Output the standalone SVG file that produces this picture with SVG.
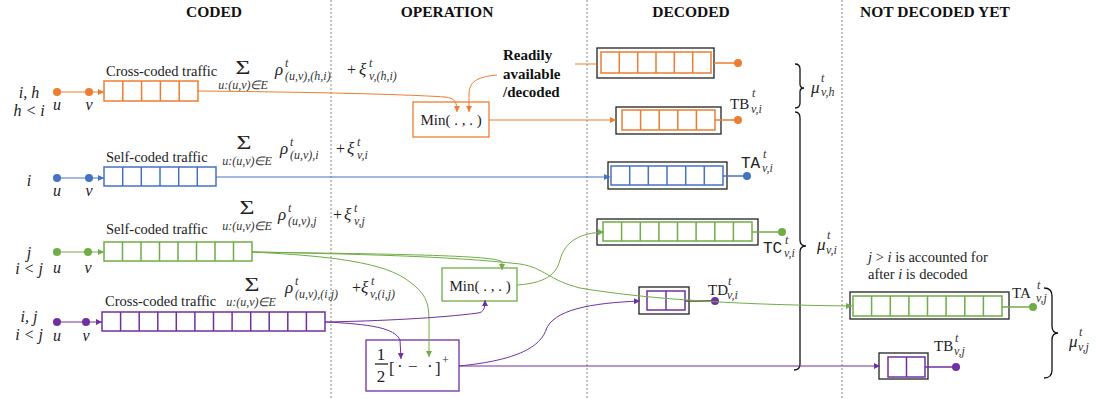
<svg xmlns="http://www.w3.org/2000/svg" width="1099" height="399" viewBox="0 0 1099 399">
<style>
.hdr{font-family:"Liberation Serif",serif;font-weight:bold;font-size:15.5px;text-anchor:middle;fill:#111}
.bold{font-family:"Liberation Serif",serif;font-weight:bold;font-size:15px;fill:#111}
.lbl{font-family:"Liberation Serif",serif;font-size:14.5px;fill:#222}
.m{font-family:"Liberation Serif",serif;font-style:italic;font-size:17px;fill:#222}
.mc{font-family:"Liberation Serif",serif;font-style:italic;font-size:16px;fill:#222;text-anchor:middle}
.s{font-family:"Liberation Serif",serif;font-style:italic;font-size:12px;fill:#333}
.sc{font-family:"Liberation Serif",serif;font-style:italic;font-size:12px;fill:#333;text-anchor:middle}
.sig{font-family:"Liberation Serif",serif;font-size:19px;fill:#222;text-anchor:middle}
.pl{font-family:"Liberation Serif",serif;font-size:16px;fill:#222}
.tt{font-family:"Liberation Mono",monospace;font-size:16px;fill:#222}
.rm{font-family:"Liberation Serif",serif;font-size:15px;fill:#222}
.br{font-family:"Liberation Serif",serif;font-size:17px;fill:#222}
.div{stroke:#888;stroke-width:1;stroke-dasharray:2,2;fill:none}
.box{fill:#fff;stroke:#222;stroke-width:1.3}
.c{fill:none;stroke-width:1}
.o{stroke:#ED7D31}.b{stroke:#4472C4}.g{stroke:#70AD47}.p{stroke:#7030A0}
.q{fill:#fff;stroke-width:1.5}
.brace{fill:none;stroke:#111;stroke-width:1.3}
</style>
<defs>
<marker id="aO" viewBox="0 0 6 6" refX="6" refY="3" markerWidth="6" markerHeight="6" orient="auto" markerUnits="userSpaceOnUse"><path d="M0,0 L6,3 L0,6 z" fill="#ED7D31"/></marker>
<marker id="aB" viewBox="0 0 6 6" refX="6" refY="3" markerWidth="6" markerHeight="6" orient="auto" markerUnits="userSpaceOnUse"><path d="M0,0 L6,3 L0,6 z" fill="#4472C4"/></marker>
<marker id="aG" viewBox="0 0 6 6" refX="6" refY="3" markerWidth="6" markerHeight="6" orient="auto" markerUnits="userSpaceOnUse"><path d="M0,0 L6,3 L0,6 z" fill="#70AD47"/></marker>
<marker id="aP" viewBox="0 0 6 6" refX="6" refY="3" markerWidth="6" markerHeight="6" orient="auto" markerUnits="userSpaceOnUse"><path d="M0,0 L6,3 L0,6 z" fill="#7030A0"/></marker>
</defs>
<rect width="1099" height="399" fill="#fff"/>

<g id="dividers">
<line class="div" x1="331" y1="0" x2="331" y2="399"/>
<line class="div" x1="587" y1="0" x2="587" y2="399"/>
<line class="div" x1="842" y1="0" x2="842" y2="399"/>
</g>

<g id="headers">
<text class="hdr" x="214" y="17">CODED</text>
<text class="hdr" x="447" y="17">OPERATION</text>
<text class="hdr" x="691" y="17">DECODED</text>
<text class="hdr" x="935" y="17">NOT DECODED YET</text>
</g>

<g id="row-h" fill="#ED7D31">
<text class="mc" x="29" y="98">i, h</text>
<text class="mc" x="29" y="116">h &lt; i</text>
<circle cx="57" cy="92" r="4"/><circle cx="89" cy="92" r="4"/>
<text class="mc" x="57" y="110">u</text><text class="mc" x="89" y="110">v</text>
<text class="lbl" x="106" y="76">Cross-coded traffic</text>
<g class="q o"><rect x="104" y="81" width="94" height="20"/><path d="M122.8 81V101M141.6 81V101M160.4 81V101M179.2 81V101"/></g>
<text class="sig" transform="translate(243 74) scale(1.35 1)">Σ</text>
<text class="sc" x="243" y="89">u:(u,v)∈E</text>
<text class="m" x="275" y="75">ρ</text>
<text class="s" x="285" y="67">t</text>
<text class="s" x="285" y="80">(u,v),(h,i)</text>
<text class="pl" x="347" y="75">+</text>
<text class="m" x="359" y="75">ξ</text>
<text class="s" x="369" y="67">t</text>
<text class="s" x="369" y="80">v,(h,i)</text>
</g>

<g id="row-i" fill="#4472C4">
<text class="mc" x="29" y="186">i</text>
<circle cx="57" cy="178" r="4"/><circle cx="89" cy="178" r="4"/>
<text class="mc" x="57" y="196">u</text><text class="mc" x="89" y="196">v</text>
<text class="lbl" x="106" y="162">Self-coded traffic</text>
<g class="q b"><rect x="104" y="167" width="112" height="19"/><path d="M122.7 167V186M141.3 167V186M160 167V186M178.7 167V186M197.3 167V186"/></g>
<text class="sig" transform="translate(244 149) scale(1.35 1)">Σ</text>
<text class="sc" x="247" y="165">u:(u,v)∈E</text>
<text class="m" x="280" y="154">ρ</text>
<text class="s" x="290" y="146">t</text>
<text class="s" x="290" y="159">(u,v),i</text>
<text class="pl" x="336" y="154">+</text>
<text class="m" x="347" y="154">ξ</text>
<text class="s" x="357" y="146">t</text>
<text class="s" x="357" y="159">v,i</text>
</g>

<g id="row-j" fill="#70AD47">
<text class="mc" x="29" y="258">j</text>
<text class="mc" x="29" y="274">i &lt; j</text>
<circle cx="57" cy="252" r="4"/><circle cx="88" cy="252" r="4"/>
<text class="mc" x="57" y="273">u</text><text class="mc" x="88" y="273">v</text>
<text class="lbl" x="106" y="234">Self-coded traffic</text>
<g class="q g"><rect x="104" y="242" width="148" height="19"/><path d="M122.5 242V261M141 242V261M159.5 242V261M178 242V261M196.5 242V261M215 242V261M233.5 242V261"/></g>
<text class="sig" transform="translate(247 214) scale(1.35 1)">Σ</text>
<text class="sc" x="247" y="230">u:(u,v)∈E</text>
<text class="m" x="278" y="220">ρ</text>
<text class="s" x="288" y="212">t</text>
<text class="s" x="288" y="225">(u,v),j</text>
<text class="pl" x="333" y="220">+</text>
<text class="m" x="344" y="220">ξ</text>
<text class="s" x="354" y="212">t</text>
<text class="s" x="354" y="225">v,j</text>
</g>

<g id="row-ij" fill="#7030A0">
<text class="mc" x="29" y="322">i, j</text>
<text class="mc" x="29" y="340">i &lt; j</text>
<circle cx="57" cy="322" r="4"/><circle cx="86" cy="322" r="4"/>
<text class="mc" x="57" y="341">u</text><text class="mc" x="86" y="341">v</text>
<text class="lbl" x="105" y="306">Cross-coded traffic</text>
<g class="q p"><rect x="102" y="312" width="223" height="19"/><path d="M120.6 312V331M139.2 312V331M157.8 312V331M176.3 312V331M194.9 312V331M213.5 312V331M232.1 312V331M250.7 312V331M269.2 312V331M287.8 312V331M306.4 312V331"/></g>
<text class="sig" transform="translate(252 291) scale(1.35 1)">Σ</text>
<text class="sc" x="251" y="306">u:(u,v)∈E</text>
<text class="m" x="285" y="293">ρ</text>
<text class="s" x="295" y="285">t</text>
<text class="s" x="295" y="298">(u,v),(i,j)</text>
<text class="pl" x="352" y="293">+</text>
<text class="m" x="361" y="293">ξ</text>
<text class="s" x="371" y="285">t</text>
<text class="s" x="370" y="298">v,(i,j)</text>
</g>

<g id="min-orange">
<rect x="413" y="102" width="76" height="35" fill="#fff" stroke="#ED7D31" stroke-width="1.3"/>
<text class="rm" x="451" y="125" text-anchor="middle">Min( . , . )</text>
</g>

<g id="readily">
<text class="bold" x="503" y="60">Readily</text>
<text class="bold" x="503" y="79">available</text>
<text class="bold" x="503" y="97">/decoded</text>
</g>

<g id="min-green">
<rect x="442" y="268" width="75" height="33" fill="#fff" stroke="#70AD47" stroke-width="1.3"/>
<text class="rm" x="480" y="291" text-anchor="middle">Min( . , . )</text>
</g>

<g id="half-box">
<rect x="366" y="340" width="93" height="51" fill="#fff" stroke="#7030A0" stroke-width="1.3"/>
<text class="br" x="381" y="360" text-anchor="middle">1</text>
<line x1="375" y1="364" x2="388" y2="364" stroke="#222" stroke-width="1.3"/>
<text class="br" x="381" y="382" text-anchor="middle">2</text>
<text class="br" x="389" y="374">[</text>
<text class="br" x="397" y="372">·</text>
<text class="br" x="408" y="372">−</text>
<text class="br" x="427" y="372">·</text>
<text class="br" x="435" y="374">]</text>
<text class="s" x="442" y="364" style="font-style:normal">+</text>
</g>

<g id="dec-orange-1">
<rect class="box" x="597" y="48" width="117" height="30"/>
<g class="q o"><rect x="601" y="52" width="110" height="21"/><path d="M619.3 52V73M637.7 52V73M656 52V73M674.3 52V73M692.7 52V73"/></g>
<line x1="714" y1="63" x2="738" y2="63" stroke="#ED7D31" stroke-width="1.5"/>
<circle cx="738" cy="63" r="4" fill="#ED7D31"/>
</g>

<g id="dec-orange-TB">
<rect class="box" x="616" y="107" width="105" height="27"/>
<g class="q o"><rect x="622" y="110" width="93" height="20"/><path d="M640.6 110V130M659.2 110V130M677.8 110V130M696.4 110V130"/></g>
<line x1="715" y1="120" x2="738" y2="120" stroke="#ED7D31" stroke-width="1.5"/>
<circle cx="738" cy="120" r="4" fill="#ED7D31"/>
<text class="rm" x="730" y="109">TB</text><text class="s" x="752" y="97">t</text><text class="s" x="751" y="113">v,i</text>
</g>

<g id="dec-blue-TA">
<rect class="box" x="608" y="162" width="119" height="27"/>
<g class="q b"><rect x="611" y="166" width="112" height="19"/><path d="M629.7 166V185M648.3 166V185M667 166V185M685.7 166V185M704.3 166V185"/></g>
<line x1="723" y1="176" x2="747" y2="176" stroke="#4472C4" stroke-width="1.5"/>
<circle cx="747" cy="176" r="4" fill="#4472C4"/>
<text class="tt" x="741" y="168">TA</text><text class="s" x="763" y="158">t</text><text class="s" x="762" y="172">v,i</text>
</g>

<g id="dec-green-TC">
<rect class="box" x="597" y="219" width="161" height="26"/>
<g class="q g"><rect x="603" y="222" width="149" height="19"/><path d="M621.6 222V241M640.3 222V241M658.9 222V241M677.5 222V241M696.1 222V241M714.8 222V241M733.4 222V241"/></g>
<line x1="752" y1="232" x2="782" y2="232" stroke="#70AD47" stroke-width="1.5"/>
<circle cx="782" cy="232" r="4" fill="#70AD47"/>
<text class="tt" x="763" y="253">TC</text><text class="s" x="785" y="244">t</text><text class="s" x="784" y="257">v,i</text>
</g>

<g id="dec-purple-TD">
<rect class="box" x="639" y="287" width="50" height="27"/>
<g class="q p"><rect x="647" y="291" width="38" height="19"/><path d="M666 291V310"/></g>
<line x1="685" y1="301" x2="715" y2="301" stroke="#444" stroke-width="1.5"/>
<circle cx="715" cy="301" r="4" fill="#7030A0"/>
<text class="rm" x="708" y="295">TD</text><text class="s" x="728" y="285">t</text><text class="s" x="727" y="299">v,i</text>
</g>

<g id="nd-green-TA">
<rect class="box" x="850" y="292" width="159" height="27"/>
<g class="q g"><rect x="853" y="296" width="149" height="20"/><path d="M871.6 296V316M890.3 296V316M908.9 296V316M927.5 296V316M946.1 296V316M964.8 296V316M983.4 296V316"/></g>
<line x1="1002" y1="307" x2="1033" y2="307" stroke="#70AD47" stroke-width="1.5"/>
<circle cx="1033" cy="307" r="4" fill="#70AD47"/>
<text class="rm" x="1012" y="298">TA</text><text class="s" x="1037" y="289">t</text><text class="s" x="1036" y="302">v,j</text>
</g>

<g id="nd-purple-TB">
<rect class="box" x="879" y="353" width="49" height="26"/>
<g class="q p"><rect x="888" y="357" width="37" height="20"/><path d="M906.5 357V377"/></g>
<line x1="925" y1="367" x2="956" y2="367" stroke="#7030A0" stroke-width="1.5"/>
<circle cx="956" cy="367" r="4" fill="#7030A0"/>
<text class="rm" x="934" y="351">TB</text><text class="s" x="955" y="342">t</text><text class="s" x="954" y="355">v,j</text>
</g>

<g id="note">
<text class="lbl" x="868" y="262"><tspan font-style="italic">j</tspan> &gt; <tspan font-style="italic">i</tspan> is accounted for</text>
<text class="lbl" x="868" y="279">after <tspan font-style="italic">i</tspan> is decoded</text>
</g>

<g id="braces">
<path class="brace" d="M795 64 Q800 64 800 69 L800 84 Q800 88 804 88 Q800 88 800 92 L800 103 Q800 108 795 108"/>
<text class="m" x="811" y="93">μ</text><text class="s" x="821" y="82">t</text><text class="s" x="821" y="96">v,h</text>
<path class="brace" d="M795 112 Q800 112 800 118 L800 240 Q800 246 806 246 Q800 246 800 252 L800 364 Q800 370 794 370"/>
<text class="m" x="817" y="250">μ</text><text class="s" x="827" y="239">t</text><text class="s" x="826" y="254">v,i</text>
<path class="brace" d="M1044 288 Q1052 288 1052 296 L1052 326 Q1052 333 1058 333 Q1052 333 1052 340 L1052 370 Q1052 378 1044 378"/>
<text class="m" x="1069" y="347">μ</text><text class="s" x="1079" y="336">t</text><text class="s" x="1078" y="351">v,j</text>
</g>

<g id="connectors">
<line class="c o" x1="57" y1="92" x2="89" y2="92"/><line class="c o" x1="89" y1="92" x2="104" y2="92" marker-end="url(#aO)"/>
<line class="c b" x1="57" y1="178" x2="89" y2="178"/><line class="c b" x1="89" y1="178" x2="104" y2="178" marker-end="url(#aB)"/>
<line class="c g" x1="57" y1="252" x2="88" y2="252"/><line class="c g" x1="88" y1="252" x2="104" y2="252" marker-end="url(#aG)"/>
<line class="c p" x1="57" y1="322" x2="86" y2="322"/><line class="c p" x1="86" y1="322" x2="102" y2="322" marker-end="url(#aP)"/>
<path class="c o" d="M198 91 C300 92 400 94 445 97 C455 98 457 102 457 112" marker-end="url(#aO)"/>
<path class="c o" d="M497 75 C476 77 469 82 469 95 L469 112" marker-end="url(#aO)"/>
<line class="c o" x1="575" y1="64" x2="597" y2="64"/>
<line class="c o" x1="489" y1="120" x2="616" y2="120" marker-end="url(#aO)"/>
<line class="c b" x1="216" y1="177" x2="610" y2="177" marker-end="url(#aB)"/>
<path class="c g" d="M252 252 C350 254 450 256 520 264 C545 268 548 280 580 288 C650 300 750 305 852 306" marker-end="url(#aG)"/>
<path class="c g" d="M252 252 C380 254 500 255 502 262 L502 270" marker-end="url(#aG)"/>
<path class="c g" d="M252 252 C330 256 385 262 410 282 C424 293 429 300 429 320 L429 357" marker-end="url(#aG)"/>
<path class="c g" d="M517 285 C545 283 556 275 560 260 C565 241 580 233 604 232" marker-end="url(#aG)"/>
<path class="c p" d="M325 322 C380 321 440 318 478 313 C484 312 485 308 485 300" marker-end="url(#aP)"/>
<path class="c p" d="M325 322 C370 324 395 328 400 340 L401 359" marker-end="url(#aP)"/>
<path class="c p" d="M459 366 C520 360 540 346 546 330 C553 310 590 303 640 301" marker-end="url(#aP)"/>
<line class="c p" x1="459" y1="366" x2="880" y2="366" marker-end="url(#aP)"/>
</g>
</svg>
